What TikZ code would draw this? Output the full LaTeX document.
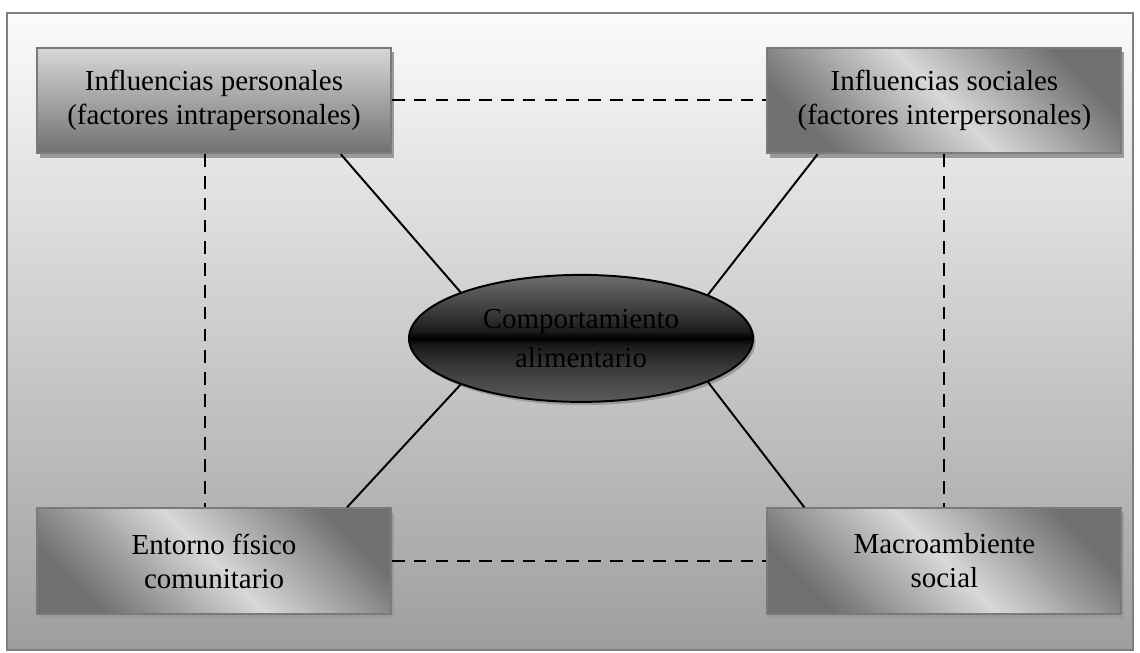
\documentclass[tikz,border=0pt]{standalone}
\usepackage{fontspec}
\setmainfont{Liberation Serif}
\usetikzlibrary{shapes.geometric,shadows}
\definecolor{frameline}{HTML}{7F7F7F}
\definecolor{paperTop}{HTML}{FBFBFB}
\definecolor{paperBot}{HTML}{9E9E9E}
\definecolor{boxline}{HTML}{7A7A7A}
\definecolor{boxlight}{HTML}{D8D8D8}
\definecolor{boxdark}{HTML}{707070}
\definecolor{boxshadow}{HTML}{9A9A9A}
\definecolor{ellTop}{HTML}{6E6E6E}
\definecolor{ellHigh}{HTML}{3C3C3C}
\definecolor{ellNear}{HTML}{1C1C1C}
\definecolor{ellLow}{HTML}{383838}
\definecolor{ellBot}{HTML}{5C5C5C}
\definecolor{ellText}{HTML}{000000}
\pgfdeclareverticalshading{ovalshade}{100bp}{color(0bp)=(ellBot); color(25bp)=(ellBot); color(39bp)=(ellLow); color(47bp)=(ellNear); color(50bp)=(black); color(53bp)=(ellNear); color(61bp)=(ellHigh); color(75bp)=(ellTop); color(100bp)=(ellTop)}
\newcommand{\BoxW}{8.85cm}
\newcommand{\BoxH}{2.64cm}
\newcommand{\LeftX}{5.35}
\newcommand{\RightX}{23.61}
\newcommand{\TopY}{13.79}
\newcommand{\BotY}{2.275}

\begin{document}
\begin{tikzpicture}[
    font=\fontsize{20.6}{24.2}\selectfont,
    link/.style={line width=1.4pt, draw=black},
    dashlink/.style={link, dash pattern=on 9pt off 6.5pt},
    factor/.style={draw=boxline, line width=1.4pt, minimum width=\BoxW, minimum height=\BoxH, align=center, inner sep=0pt,
      drop shadow={shadow xshift=0.07cm, shadow yshift=-0.11cm, fill=boxshadow, opacity=1}},
    plainshade/.style={top color=boxlight, bottom color=boxdark},
    diagshade/.style={top color=boxdark, bottom color=boxdark, middle color=boxlight, shading angle=-45},
    behaviour/.style={ellipse, draw=black, line width=1.4pt, minimum width=8.6cm, minimum height=3.175cm, inner sep=0pt, align=center,
      font=\fontsize{20.6}{27.7}\selectfont, shade, shading=ovalshade, text=ellText,
      drop shadow={shadow xshift=0.06cm, shadow yshift=-0.08cm, fill=boxshadow, opacity=1}},
  ]
\useasboundingbox (0,0) rectangle (28.5,16.3);

% --- Background panel ----------------------------------------------------------------
\path[draw=frameline, line width=1.4pt, top color=paperTop, bottom color=paperBot] (0.17,0.06) rectangle (28.33,15.98);

% --- The four groups of influences ------------------------------------------------------
\node[factor, plainshade] (pers) at (\LeftX, \TopY) {Influencias personales\\(factores intrapersonales)};
\node[factor, diagshade] (soc) at (\RightX, \TopY) {Influencias sociales\\(factores interpersonales)};
\node[factor, diagshade] (ento) at (\LeftX, \BotY) {Entorno físico\\comunitario};
\node[factor, diagshade] (macro) at (\RightX, \BotY) {Macroambiente\\social};

% --- Eating behaviour in the middle -------------------------------------------------------
\node[behaviour] (comp) at (14.525, 7.84) {\textcolor{ellText}{Comportamiento}\\\textcolor{ellText}{alimentario}};

% --- Links ----------------------------------------------------------------------------------
\draw[dashlink] (pers.east) -- (soc.west);
\draw[dashlink] (ento.east) -- (macro.west);
\draw[dashlink] ([xshift=-0.225cm]pers.south) -- ([xshift=-0.225cm]ento.north);
\draw[dashlink] (soc.south) -- (macro.north);
\draw[link] (pers.-23.5) -- (comp.159.7);
\draw[link] (soc.-157.5) -- (comp.19.7);
\draw[link] (ento.22) -- (comp.-159.7);
\draw[link] (macro.159.5) -- (comp.-19.7);

\end{tikzpicture}
\end{document}
